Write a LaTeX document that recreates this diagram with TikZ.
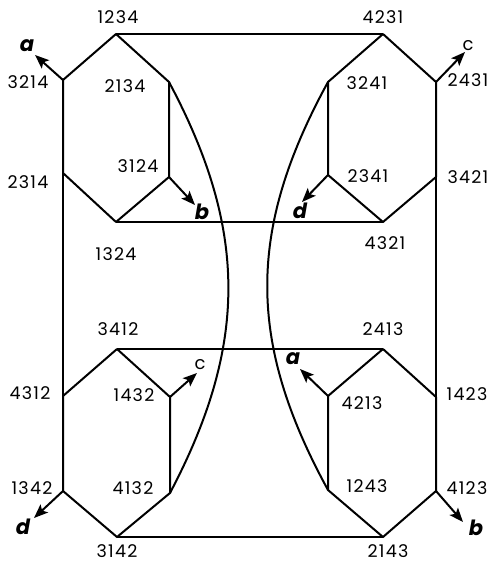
\documentclass[tikz,border=0pt]{standalone}
\usepackage{fontspec}
\setmainfont{Poppins}
\usetikzlibrary{arrows.meta}
\begin{document}
\begin{tikzpicture}[x=1pt,y=-1pt,
  edge/.style={line width=2pt,line join=round},
  arr/.style={line width=2pt,-{Stealth[length=14pt,width=11pt,inset=3pt]}},
  lbl/.style={font=\fontsize{17.5}{17.5}\selectfont\addfontfeatures{LetterSpace=7},inner sep=0pt},
  dir/.style={font=\fontsize{21}{21}\selectfont\bfseries\itshape,inner sep=0pt},
  dirc/.style={font=\fontsize{18}{18}\selectfont,inner sep=0pt},
  v/.style={coordinate}]
\useasboundingbox (0,0) rectangle (491,565);
% vertices
\node[v] (1234) at (116,34) {};
\node[v] (3214) at (63,80) {};
\node[v] (2134) at (169,82) {};
\node[v] (3124) at (169,177) {};
\node[v] (2314) at (63,173) {};
\node[v] (1324) at (116,222) {};
\node[v] (4231) at (383,34) {};
\node[v] (3241) at (328,82) {};
\node[v] (2431) at (436,82) {};
\node[v] (2341) at (328,175) {};
\node[v] (3421) at (436,177) {};
\node[v] (4321) at (383,222) {};
\node[v] (3412) at (117,349) {};
\node[v] (4312) at (63,396) {};
\node[v] (1432) at (170,397) {};
\node[v] (4132) at (170,493) {};
\node[v] (1342) at (63,491) {};
\node[v] (3142) at (117,537) {};
\node[v] (2413) at (383,349) {};
\node[v] (4213) at (328,396) {};
\node[v] (1423) at (436,397) {};
\node[v] (1243) at (328,490) {};
\node[v] (4123) at (436,491) {};
\node[v] (2143) at (383,537) {};
% hexagons
\draw[edge] (1234)--(3214)--(2314)--(1324)--(3124)--(2134)--cycle;
\draw[edge] (4231)--(3241)--(2341)--(4321)--(3421)--(2431)--cycle;
\draw[edge] (3412)--(4312)--(1342)--(3142)--(4132)--(1432)--cycle;
\draw[edge] (2413)--(4213)--(1243)--(2143)--(4123)--(1423)--cycle;
% connecting edges
\draw[edge] (1234)--(4231);
\draw[edge] (1324)--(4321);
\draw[edge] (3412)--(2413);
\draw[edge] (3142)--(2143);
\draw[edge] (2314)--(4312);
\draw[edge] (3421)--(1423);
\draw[edge] (2134) .. controls (248,230) and (248,345) .. (4132);
\draw[edge] (3241) .. controls (247,230) and (247,342) .. (1243);
% arrows
\node[v] (ta) at (35,55) {};
\node[v] (tb) at (195,205) {};
\node[v] (td) at (302,202) {};
\node[v] (tc) at (465,52) {};
\node[v] (bc) at (197,373) {};
\node[v] (ba) at (300,369) {};
\node[v] (bd) at (34,518) {};
\node[v] (bb) at (463,522) {};
\draw[arr] (3214)--(ta);
\draw[arr] (3124)--(tb);
\draw[arr] (2341)--(td);
\draw[arr] (2431)--(tc);
\draw[arr] (1432)--(bc);
\draw[arr] (4213)--(ba);
\draw[arr] (1342)--(bd);
\draw[arr] (4123)--(bb);
\node[dir] (la1) at (27,46) {a};
\node[dir] (lb1) at (202,212) {b};
\node[dir] (ld1) at (300,211) {d};
\node[dirc] (lc1) at (468,46) {c};
\node[dirc] (lc2) at (200,365) {c};
\node[dir] (la2) at (293,359) {a};
\node[dir] (ld2) at (23,527) {d};
\node[dir] (lb2) at (476,528) {b};
% labels
\node[lbl] at (118,17) {1234};
\node[lbl] at (28,82) {3214};
\node[lbl] at (125,86) {2134};
\node[lbl] at (138,166) {3124};
\node[lbl] at (28,182) {2314};
\node[lbl] at (116,254) {1324};
\node[lbl] at (383,17) {4231};
\node[lbl] at (367,83) {3241};
\node[lbl] at (468,80) {2431};
\node[lbl] at (368,176) {2341};
\node[lbl] at (468,177) {3421};
\node[lbl] at (385,243) {4321};
\node[lbl] at (118,329) {3412};
\node[lbl] at (30,393) {4312};
\node[lbl] at (134,395) {1432};
\node[lbl] at (133,488) {4132};
\node[lbl] at (32,488) {1342};
\node[lbl] at (117,551) {3142};
\node[lbl] at (383,329) {2413};
\node[lbl] at (362,403) {4213};
\node[lbl] at (467,394) {1423};
\node[lbl] at (367,486) {1243};
\node[lbl] at (467,488) {4123};
\node[lbl] at (388,551) {2143};
\end{tikzpicture}
\end{document}
